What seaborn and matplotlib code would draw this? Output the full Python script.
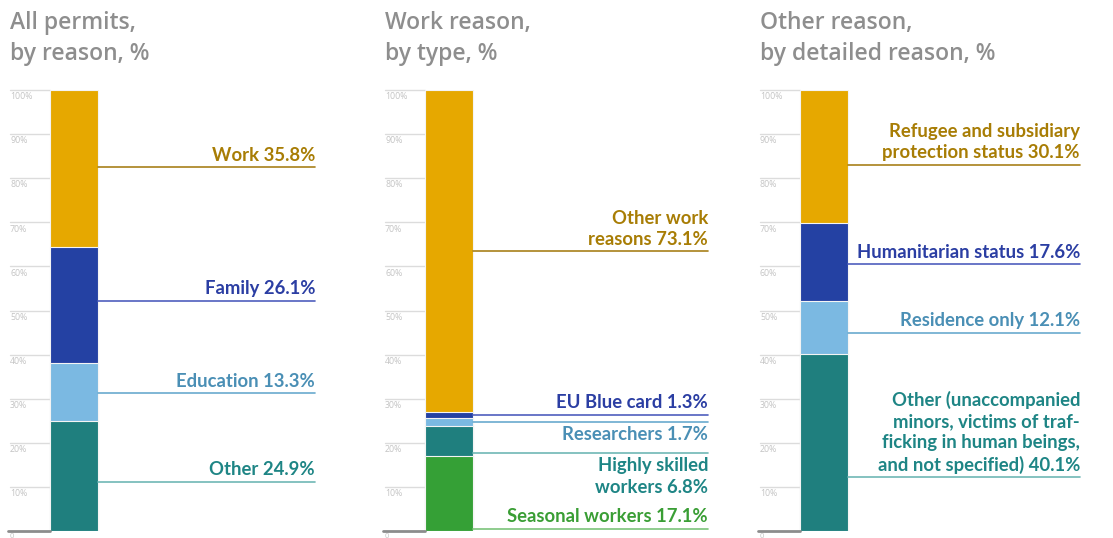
import matplotlib
matplotlib.use("Agg")
import matplotlib.pyplot as plt
import seaborn as sns
import pandas as pd
import numpy as np

# ---------------- data ----------------
p1_segments = ["Other", "Education", "Family", "Work"]
p1_values = [24.9, 13.3, 26.1, 35.8]
p1_labels = ["Other 24.9%", "Education 13.3%", "Family 26.1%", "Work 35.8%"]

p2_segments = ["Seasonal workers", "Highly skilled workers", "Researchers", "EU Blue card", "Other work reasons"]
p2_values = [17.1, 6.8, 1.7, 1.3, 73.1]
p2_labels = ["Seasonal workers 17.1%", "Highly skilled\nworkers 6.8%", "Researchers 1.7%",
             "EU Blue card 1.3%", "Other work\nreasons 73.1%"]

p3_segments = ["Other", "Residence only", "Humanitarian status", "Refugee and subsidiary protection status"]
p3_values = [40.1, 12.1, 17.6, 30.1]
p3_labels = ["Other (unaccompanied\nminors, victims of traf-\nficking in human beings,\nand not specified) 40.1%",
             "Residence only 12.1%", "Humanitarian status 17.6%",
             "Refugee and subsidiary\nprotection status 30.1%"]

titles = ["All permits,\nby reason, %", "Work reason,\nby type, %", "Other reason,\nby detailed reason, %"]
tick_values = [10, 20, 30, 40, 50, 60, 70, 80, 90, 100]

# ---------------- styles / layout ----------------
GOLD, BLUE, LBLUE, TEAL, GREEN = "#E6A800", "#2441A3", "#7BB9E2", "#1F7F7E", "#35A036"
T_GOLD, T_BLUE, T_LBLUE, T_TEAL, T_GREEN = "#A87D05", "#2B3EA3", "#4A8FB5", "#1E8585", "#3A9E35"
L_GOLD, L_BLUE, L_LBLUE, L_TEAL, L_GREEN = "#A8801A", "#4F5FBE", "#6AAACE", "#6FB7B5", "#7CC47A"

panels = [
    dict(segments=p1_segments, values=p1_values, labels=p1_labels,
         colors=[TEAL, LBLUE, BLUE, GOLD], tcolors=[T_TEAL, T_LBLUE, T_BLUE, T_GOLD],
         lcolors=[L_TEAL, L_LBLUE, L_BLUE, L_GOLD],
         leader_y=[11.2, 31.2, 52.2, 82.5], above=[True, True, True, True],
         tick_left=10, bar_left=50, leader_end=315),
    dict(segments=p2_segments, values=p2_values, labels=p2_labels,
         colors=[GREEN, TEAL, LBLUE, BLUE, GOLD], tcolors=[T_GREEN, T_TEAL, T_LBLUE, T_BLUE, T_GOLD],
         lcolors=[L_GREEN, L_TEAL, L_LBLUE, L_BLUE, L_GOLD],
         leader_y=[0.5, 17.7, 24.7, 26.3, 63.4], above=[True, False, False, True, True],
         tick_left=385, bar_left=425, leader_end=708),
    dict(segments=p3_segments, values=p3_values, labels=p3_labels,
         colors=[TEAL, LBLUE, BLUE, GOLD], tcolors=[T_TEAL, T_LBLUE, T_BLUE, T_GOLD],
         lcolors=[L_TEAL, L_LBLUE, L_BLUE, L_GOLD],
         leader_y=[12.2, 44.9, 60.5, 83.0], above=[True, True, True, True],
         tick_left=760, bar_left=800, leader_end=1080),
]

W, H = 1113, 538
Y0_PX, Y100_PX = 531, 90
BAR_W_PX = 48
FONT = ["Open Sans", "DejaVu Sans"]
LABEL_FONT = ["Lato", "DejaVu Sans"]
LABEL_SIZE = 13.3

sns.set_theme(style="white")
plt.rcParams["font.family"] = FONT

fig = plt.figure(figsize=(W / 100, H / 100), dpi=100)

for i, p in enumerate(panels):
    tl, bl, le = p["tick_left"], p["bar_left"], p["leader_end"]
    ax = fig.add_axes([tl / W, (H - Y0_PX) / H, (le - tl) / W, (Y0_PX - Y100_PX) / H])
    unit = BAR_W_PX / 0.8
    center = bl + BAR_W_PX / 2
    xmin = -(center - tl) / unit
    xmax = (le - center) / unit

    cum = np.cumsum(p["values"])
    df = pd.DataFrame({"panel": ["p"] * len(cum), "cum": cum, "segment": p["segments"]})
    order = list(reversed(p["segments"]))
    pal = dict(zip(p["segments"], p["colors"]))
    sns.barplot(data=df, x="panel", y="cum", hue="segment", hue_order=order, palette=pal,
                dodge=False, legend=False, errorbar=None, width=0.8, ax=ax,
                edgecolor="#F4F4F4", linewidth=0.8, saturation=1)
    ax.set_xlim(xmin, xmax)
    ax.set_ylim(0, 100)
    ax.axis("off")

    bar_l = -0.4
    bar_r = 0.4
    # grid ticks (labels sit just below their line)
    for v in tick_values:
        ax.plot([xmin, bar_l], [v, v], color="#DCDCDC", lw=1.0, clip_on=False, zorder=0)
        ax.text(xmin, v - 0.5, f"{v}%", fontsize=6.3, color="#C4C4C4", ha="left", va="top")
    ax.plot([xmin - 0.03, bar_l], [0, 0], color="#8C8C8C", lw=2.0, clip_on=False, zorder=3)
    ax.text(xmin, -0.5, "0", fontsize=5.5, color="#C4C4C4", ha="left", va="top")

    # leader lines and labels
    for lab, y, ab, tc, lc in zip(p["labels"], p["leader_y"], p["above"], p["tcolors"], p["lcolors"]):
        ax.plot([bar_r, xmax], [y, y], color=lc, lw=1.2, clip_on=False, zorder=4)
        if ab:
            ax.text(xmax, y + 0.8, lab, ha="right", va="bottom", multialignment="right",
                    fontsize=LABEL_SIZE, fontweight="bold", color=tc, linespacing=1.3,
                    family=LABEL_FONT, zorder=6)
        else:
            ax.text(xmax, y - 1.0, lab, ha="right", va="top", multialignment="right",
                    fontsize=LABEL_SIZE, fontweight="bold", color=tc, linespacing=1.3,
                    family=LABEL_FONT, zorder=6)

    fig.text(tl / W, 1 - 11 / H, titles[i], ha="left", va="top", fontsize=16.5,
             fontweight="semibold", color="#8E8E8E", linespacing=1.4)

fig.savefig("out.png", dpi=100, facecolor="white")
